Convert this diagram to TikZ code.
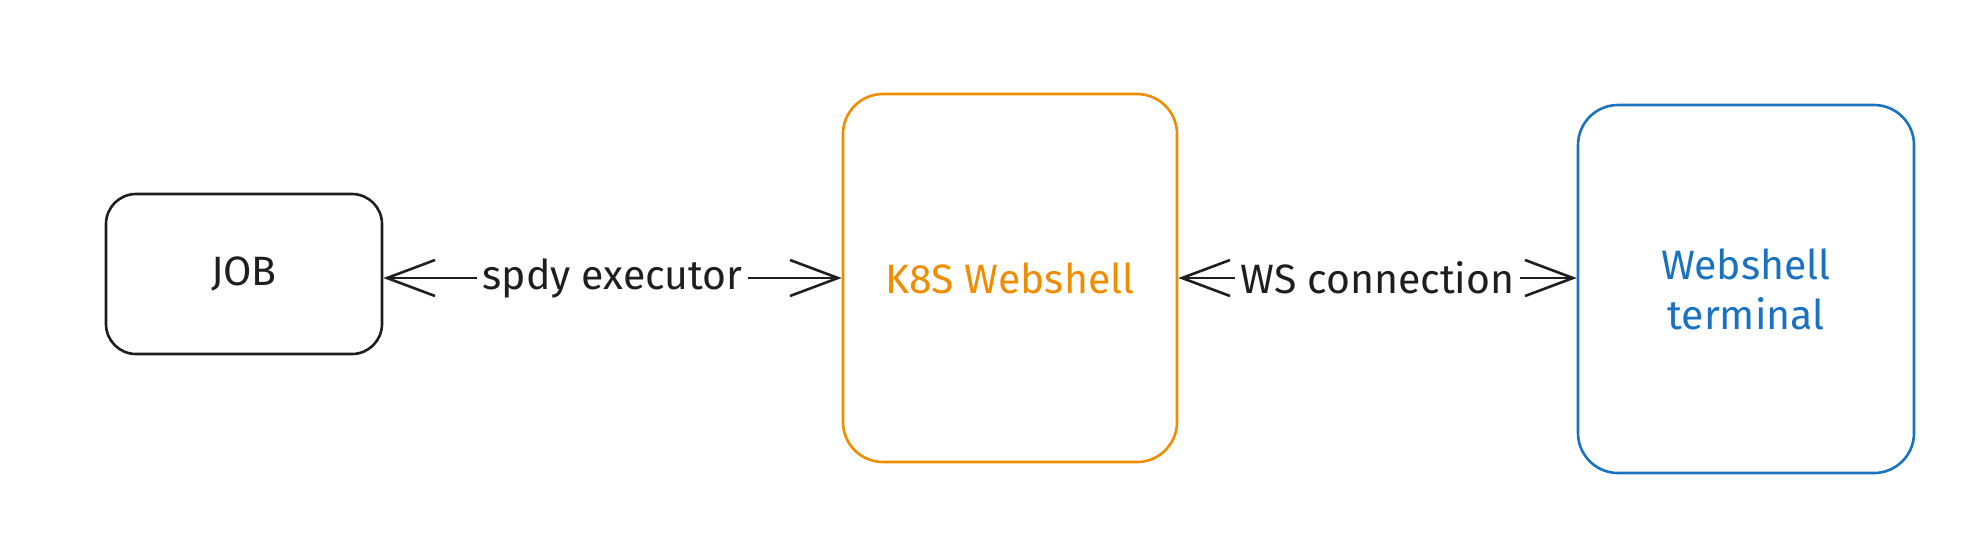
\documentclass[tikz,border=0pt]{standalone}
\usepackage{fontspec}
\setmainfont{Fira Sans}
\usetikzlibrary{arrows.meta}
\definecolor{ink}{HTML}{1E1E1E}
\definecolor{exorange}{HTML}{F08C00}
\definecolor{exblue}{HTML}{1971C2}
\tikzset{
  box/.style={draw, line width=1.3pt, rounded corners=20pt, inner sep=0pt},
  conn/.style={draw=ink, line width=1.3pt, {Straight Barb[length=24pt,width=18pt,line width=1.3pt]}-{Straight Barb[length=24pt,width=18pt,line width=1.3pt]}},
  txt/.style={font=\fontsize{20.5}{25}\selectfont},
  lbl/.style={txt, fill=white, text=ink, inner sep=3pt},
}
\begin{document}
\begin{tikzpicture}[x=0.5pt,y=-0.5pt]
\useasboundingbox (0,0) rectangle (1964,548);
\node[box, txt, draw=ink, minimum width=138pt, minimum height=80pt, rounded corners=15pt,
      text=ink] (job) at (244,274) {JOB};
\node[box, txt, draw=exorange, minimum width=167pt, minimum height=184pt,
      text=exorange] (k8s) at (1010,278) {K8S Webshell};
\node[box, txt, draw=exblue, minimum width=168pt, minimum height=184pt,
      text=exblue, align=center] (term) at (1746,289) {Webshell\\terminal};
\draw[conn] (k8s.west -| job.east) -- node[lbl] (l1) {spdy executor} (k8s.west);
\draw[conn] (k8s.east) -- node[lbl] (l2) {WS connection} (k8s.east -| term.west);
\end{tikzpicture}
\end{document}
